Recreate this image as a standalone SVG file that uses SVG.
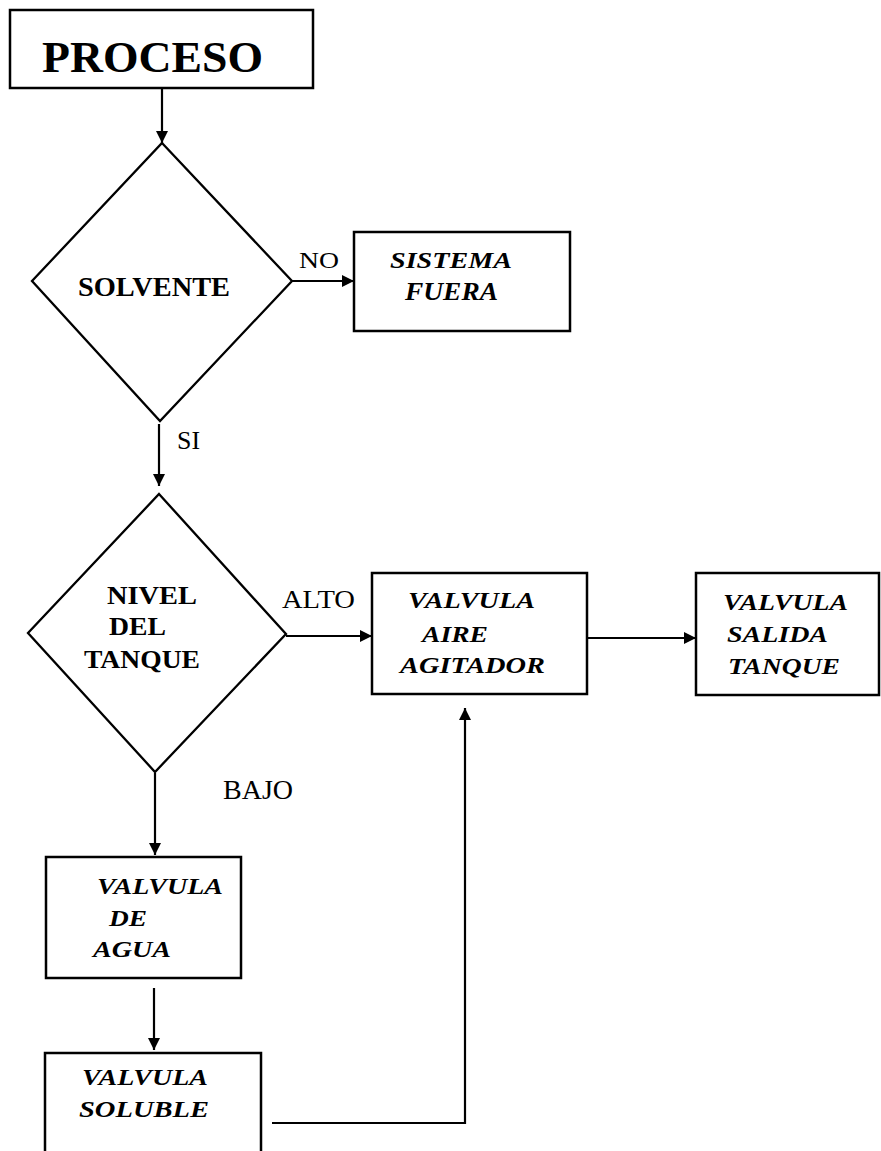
<svg xmlns="http://www.w3.org/2000/svg" width="881" height="1151" viewBox="0 0 881 1151">
<defs>
<style>
.box{fill:#fff;stroke:#000;stroke-width:2.5}
.dia{fill:#fff;stroke:#000;stroke-width:2.3}
.con{fill:none;stroke:#000;stroke-width:2.2}
text{font-family:"Liberation Serif","Times New Roman",serif;fill:#000}
.b{font-weight:bold}
.bi{font-weight:bold;font-style:italic}
</style>
<marker id="ah" viewBox="0 0 10 10" refX="10" refY="5" markerWidth="12" markerHeight="12" markerUnits="userSpaceOnUse" orient="auto">
<path d="M0,0 L10,5 L0,10 Z" fill="#000"/>
</marker>
</defs>
<rect width="881" height="1151" fill="#fff"/>
<g id="connectors">
<line class="con" x1="162" y1="88" x2="162" y2="143" marker-end="url(#ah)"/>
<line class="con" x1="292" y1="281" x2="354" y2="281" marker-end="url(#ah)"/>
<line class="con" x1="159" y1="424" x2="159" y2="486" marker-end="url(#ah)"/>
<line class="con" x1="286" y1="636" x2="372" y2="636" marker-end="url(#ah)"/>
<line class="con" x1="587" y1="638" x2="696" y2="638" marker-end="url(#ah)"/>
<line class="con" x1="155" y1="773" x2="155" y2="855" marker-end="url(#ah)"/>
<line class="con" x1="154" y1="988" x2="154" y2="1050" marker-end="url(#ah)"/>
<polyline class="con" points="272,1123 465,1123 465,708" marker-end="url(#ah)"/>
<text x="299" y="268" font-size="24" textLength="40" lengthAdjust="spacingAndGlyphs">NO</text>
<text x="177" y="449" font-size="25" textLength="23" lengthAdjust="spacingAndGlyphs">SI</text>
<text x="282" y="608" font-size="25" textLength="73" lengthAdjust="spacingAndGlyphs">ALTO</text>
<text x="223" y="799" font-size="27" textLength="70" lengthAdjust="spacingAndGlyphs">BAJO</text>
</g>
<g id="proceso">
<rect class="box" x="10" y="10" width="303" height="78"/>
<text class="b" x="42" y="72" font-size="45" textLength="221" lengthAdjust="spacingAndGlyphs">PROCESO</text>
</g>
<g id="solvente">
<polygon class="dia" points="162,143 292,281 160,421 32,281"/>
<text class="b" x="78" y="296" font-size="27" textLength="152" lengthAdjust="spacingAndGlyphs">SOLVENTE</text>
</g>
<g id="sistema-fuera">
<rect class="box" x="354" y="232" width="216" height="99"/>
<text class="bi" x="390" y="268" font-size="24" textLength="122" lengthAdjust="spacingAndGlyphs">SISTEMA</text>
<text class="bi" x="405" y="300" font-size="25" textLength="93" lengthAdjust="spacingAndGlyphs">FUERA</text>
</g>
<g id="nivel-tanque">
<polygon class="dia" points="159,494 286,634 155,772 28,633"/>
<text class="b" x="107" y="604" font-size="25" textLength="90" lengthAdjust="spacingAndGlyphs">NIVEL</text>
<text class="b" x="109" y="635" font-size="25" textLength="57" lengthAdjust="spacingAndGlyphs">DEL</text>
<text class="b" x="84" y="668" font-size="25" textLength="116" lengthAdjust="spacingAndGlyphs">TANQUE</text>
</g>
<g id="valvula-aire">
<rect class="box" x="372" y="573" width="215" height="121"/>
<text class="bi" x="408" y="608" font-size="24" textLength="127" lengthAdjust="spacingAndGlyphs">VALVULA</text>
<text class="bi" x="422" y="642" font-size="24" textLength="66" lengthAdjust="spacingAndGlyphs">AIRE</text>
<text class="bi" x="400" y="673" font-size="24" textLength="145" lengthAdjust="spacingAndGlyphs">AGITADOR</text>
</g>
<g id="valvula-salida">
<rect class="box" x="696" y="573" width="183" height="122"/>
<text class="bi" x="723" y="610" font-size="24" textLength="125" lengthAdjust="spacingAndGlyphs">VALVULA</text>
<text class="bi" x="727" y="642" font-size="24" textLength="101" lengthAdjust="spacingAndGlyphs">SALIDA</text>
<text class="bi" x="728" y="674" font-size="24" textLength="112" lengthAdjust="spacingAndGlyphs">TANQUE</text>
</g>
<g id="valvula-agua">
<rect class="box" x="46" y="857" width="195" height="121"/>
<text class="bi" x="97" y="894" font-size="24" textLength="126" lengthAdjust="spacingAndGlyphs">VALVULA</text>
<text class="bi" x="109" y="926" font-size="24" textLength="38" lengthAdjust="spacingAndGlyphs">DE</text>
<text class="bi" x="93" y="957" font-size="24" textLength="78" lengthAdjust="spacingAndGlyphs">AGUA</text>
</g>
<g id="valvula-soluble">
<rect class="box" x="45" y="1053" width="216" height="110"/>
<text class="bi" x="82" y="1085" font-size="24" textLength="126" lengthAdjust="spacingAndGlyphs">VALVULA</text>
<text class="bi" x="79" y="1117" font-size="24" textLength="130" lengthAdjust="spacingAndGlyphs">SOLUBLE</text>
</g>
</svg>
